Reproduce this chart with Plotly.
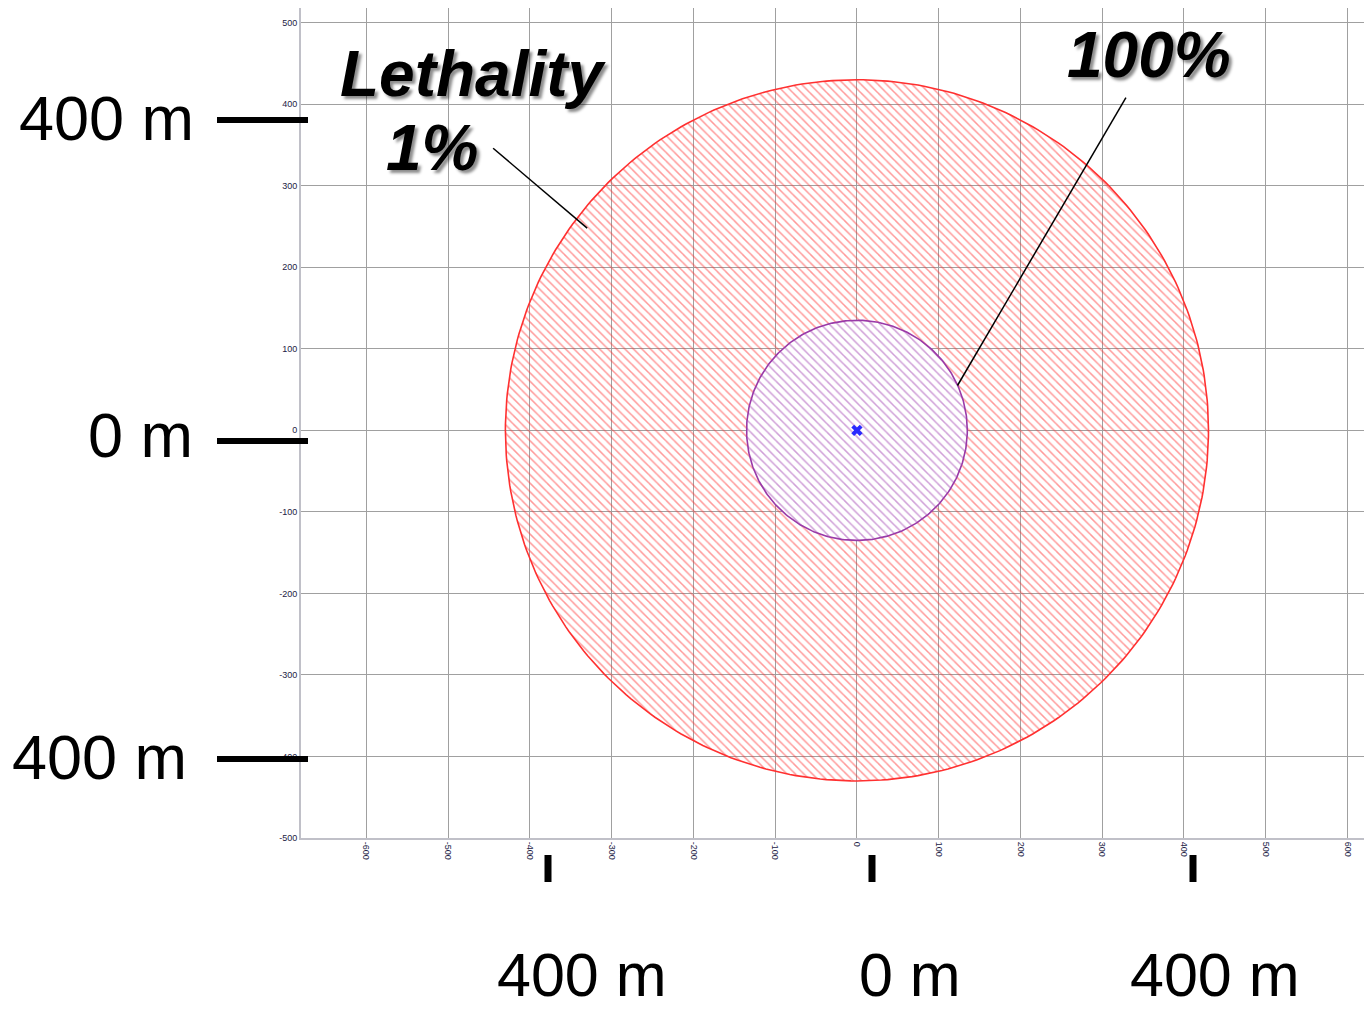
import numpy as np
import plotly.graph_objects as go

# ---- data ----
zone_names = ["Lethality 1%", "Lethality 100%"]
zone_radii = [430, 135]          # metres
source_xy = [0, 0]
tick_vals = [-600, -500, -400, -300, -200, -100, 0, 100, 200, 300, 400, 500, 600]
tick_text = [str(v) for v in tick_vals]
ytick_vals = [-500, -400, -300, -200, -100, 0, 100, 200, 300, 400, 500]
ytick_text = [str(v) for v in ytick_vals]
side_labels = ["400 m", "0 m", "400 m"]
bottom_labels = ["400 m", "0 m", "400 m"]

OFF = 8                      # page body margin
W, H = 1372 - OFF, 1013 - OFF
PL, PR, PT, PB = 301, 1372, 7, 838   # plot area in screen pixels
L = PL - OFF
T = max(PT - OFF, 0)
R = W - (PR - OFF)
B = H - (PB - OFF)
XR = [-680, 630]
YR = [-500, 518]

def px(xp):
    return (xp - PL) / (PR - PL)

def py(yp):
    return (PB - yp) / (PB - (T + OFF))

theta = np.linspace(0, 2 * np.pi, 361)
fig = go.Figure()

styles = [
    dict(line="#ff3030", fg="#ff3434", bg="rgba(255,255,255,0)"),
    dict(line="#9a3aa8", fg="#a040b0", bg="white"),
]
for name, r, st in zip(zone_names, zone_radii, styles):
    fig.add_trace(go.Scatter(
        x=source_xy[0] + r * np.cos(theta), y=source_xy[1] + r * np.sin(theta),
        mode="lines", fill="toself", name=name,
        line=dict(color=st["line"], width=1.6),
        fillcolor=st["bg"],
        fillpattern=dict(shape="\\", fgcolor=st["fg"], bgcolor=st["bg"], size=6, solidity=0.25),
        hoverinfo="skip", showlegend=False))

fig.add_trace(go.Scatter(x=[source_xy[0]], y=[source_xy[1]], mode="markers",
                         marker=dict(symbol="x", size=10, color="#2a2aff"),
                         showlegend=False))

shapes = []
# leader lines
shapes.append(dict(type="line", xref="x", yref="y", x0=-445, y0=346, x1=-330, y1=248,
                   line=dict(color="black", width=1.5)))
shapes.append(dict(type="line", xref="x", yref="y", x0=329, y0=408, x1=123, y1=55,
                   line=dict(color="black", width=1.5)))
# left scale bars
for yy in [120, 441, 759]:
    shapes.append(dict(type="line", xref="paper", yref="paper", x0=px(217), x1=px(308),
                       y0=py(yy), y1=py(yy), line=dict(color="black", width=6)))
# bottom scale bars
for xx in [548, 872, 1193]:
    shapes.append(dict(type="line", xref="paper", yref="paper", x0=px(xx), x1=px(xx),
                       y0=py(855), y1=py(882), line=dict(color="black", width=7)))

annotations = []
big_font = dict(family="Liberation Sans, Arial", size=63, color="black")
for txt, xr, yc in zip(side_labels, [196, 195, 189], [118, 435, 757]):
    annotations.append(dict(text=txt, xref="paper", yref="paper", x=px(xr), y=py(yc),
                            xanchor="right", yanchor="middle", showarrow=False, font=big_font))
for txt, xc in zip(bottom_labels, [582, 910, 1215]):
    annotations.append(dict(text=txt, xref="paper", yref="paper", x=px(xc), y=py(975),
                            xanchor="center", yanchor="middle", showarrow=False, borderpad=0,
                            font=dict(family="Liberation Sans, Arial", size=61, color="black")))

label_font = dict(family="Liberation Sans, Arial", size=64, color="black",
                  shadow="3px 3px 3px rgba(0,0,0,0.45)")
annotations.append(dict(text="<b><i>Lethality</i></b>", xref="paper", yref="paper",
                        x=px(473), y=py(74), xanchor="center", yanchor="middle",
                        showarrow=False, font=label_font))
annotations.append(dict(text="<b><i>1%</i></b>", xref="paper", yref="paper",
                        x=px(432), y=py(148), xanchor="center", yanchor="middle",
                        showarrow=False, font=label_font))
annotations.append(dict(text="<b><i>100%</i></b>", xref="paper", yref="paper",
                        x=px(1149), y=py(55), xanchor="center", yanchor="middle",
                        showarrow=False, font=label_font))

axis_common = dict(showgrid=True, gridcolor="#a0a0a0", gridwidth=1, zeroline=False,
                   showline=True, linecolor="#c0c0c8", linewidth=2, mirror=False,
                   ticks="", tickfont=dict(family="Liberation Sans, Arial", size=9, color="#222244"))

fig.update_layout(
    width=W, height=H,
    margin=dict(l=L, r=R, t=T, b=B),
    paper_bgcolor="white", plot_bgcolor="white",
    xaxis=dict(range=XR, tickvals=tick_vals, ticktext=tick_text, tickangle=90, **axis_common),
    yaxis=dict(range=YR, tickvals=ytick_vals, ticktext=ytick_text, **axis_common),
    shapes=shapes, annotations=annotations, showlegend=False,
)

fig.write_html("out.html")
